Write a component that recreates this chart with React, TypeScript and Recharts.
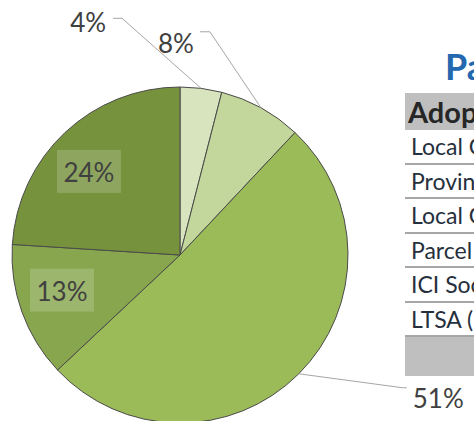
import React from 'react';
import { PieChart, Pie, Cell } from 'recharts';

// slice shares (percent), clockwise from 12 o'clock
const categories = ['Group A', 'Group B', 'Group C', 'Group D', 'Group E'];
const shares = [4, 8, 51, 13, 24];
const sliceColors = ['#d7e4bd', '#c3d69b', '#9bbb59', '#88a64d', '#76923c'];

// side table (cut off by the right edge in the original)
const tableTitle = 'Parcel Fabric';
const tableHeader = 'Adoption';
const tableRows = ['Local Government', 'Provincial Government', 'Local Government', 'Parcel Map BC', 'ICI Society', 'LTSA (Land Title)'];

const data = categories.map((name, i) => ({ name, value: shares[i] }));

const RADIAN = Math.PI / 180;
const FONT = 'Lato, "Open Sans", sans-serif';

// label styling: leader offsets for the outside labels, nudges for the inside ones
const labelStyle: Record<number, any> = {
  0: { out: true, ldx: -79, ldy: -70, tail: -9, tx: -7, ty: 4, anchor: 'end' },
  1: { out: true, ldx: -51, ldy: -76, tail: -10, tx: -6, ty: 11, anchor: 'end' },
  2: { out: true, ldx: 104, ldy: 14, tail: 4, tx: 6, ty: 10, anchor: 'start' },
  3: { out: false, nx: -1, ny: -7 },
  4: { out: false, nx: -6, ny: 7 },
};

function renderLabel(props: any) {
  const { cx, cy, midAngle, outerRadius, index, value } = props;
  const text = `${value}%`;
  const cos = Math.cos(-midAngle * RADIAN);
  const sin = Math.sin(-midAngle * RADIAN);
  const st = labelStyle[index];
  if (!st.out) {
    const r = outerRadius * 0.74;
    const x = cx + r * cos + st.nx;
    const y = cy + r * sin + st.ny;
    return (
      <g key={`lbl-${index}`}>
        <rect x={x - 32} y={y - 21.5} width={64} height={43} fill="#ffffff" fillOpacity={0.18} />
        <text x={x} y={y + 1} textAnchor="middle" dominantBaseline="central" fill="#404040" fontSize={26} fontFamily={FONT}>
          {text}
        </text>
      </g>
    );
  }
  const ex = cx + outerRadius * cos;
  const ey = cy + outerRadius * sin;
  const mx = ex + st.ldx;
  const my = ey + st.ldy;
  return (
    <g key={`lbl-${index}`}>
      <polyline points={`${ex},${ey} ${mx},${my} ${mx + st.tail},${my}`} fill="none" stroke="#a6a6a6" strokeWidth={1} />
      <text x={mx + st.tail + st.tx} y={my + st.ty} textAnchor={st.anchor} dominantBaseline="central" fill="#404040" fontSize={26} fontFamily={FONT}>
        {text}
      </text>
    </g>
  );
}

export default function App() {
  return (
    <div style={{ position: 'fixed', left: 0, top: 0, width: 474, height: 421, overflow: 'hidden', background: '#ffffff' }}>
      <div style={{ position: 'absolute', left: 445, top: 44, lineHeight: '44px', fontFamily: FONT, fontWeight: 700, fontSize: 36, color: '#2468b0', whiteSpace: 'nowrap' }}>
        {tableTitle}
      </div>
      <div style={{ position: 'absolute', left: 405, top: 93, width: 300, fontFamily: FONT, fontSize: 23, color: '#262626' }}>
        <div style={{ height: 37, background: '#bfbfbf', fontWeight: 700, fontSize: 29, paddingLeft: 3, lineHeight: '37px', whiteSpace: 'nowrap' }}>
          {tableHeader}
        </div>
        {tableRows.map((r, i) => (
          <div key={i} style={{ height: 34.5, lineHeight: '33px', paddingLeft: 6, borderBottom: '2px solid #a6a6a6', boxSizing: 'border-box', whiteSpace: 'nowrap', color: '#26303c' }}>
            {r}
          </div>
        ))}
        <div style={{ height: 39, background: '#bfbfbf' }} />
      </div>
      <PieChart width={474} height={421} margin={{ top: 0, right: 0, bottom: 0, left: 0 }} style={{ position: 'absolute', left: 0, top: 0 }}>
        <Pie
          data={data}
          dataKey="value"
          nameKey="name"
          cx={180}
          cy={255}
          outerRadius={168}
          startAngle={90}
          endAngle={-270}
          stroke="#4a4a4a"
          strokeWidth={1}
          label={renderLabel}
          labelLine={false}
          isAnimationActive={false}
        >
          {data.map((d, i) => (
            <Cell key={d.name} fill={sliceColors[i]} />
          ))}
        </Pie>
      </PieChart>
    </div>
  );
}
